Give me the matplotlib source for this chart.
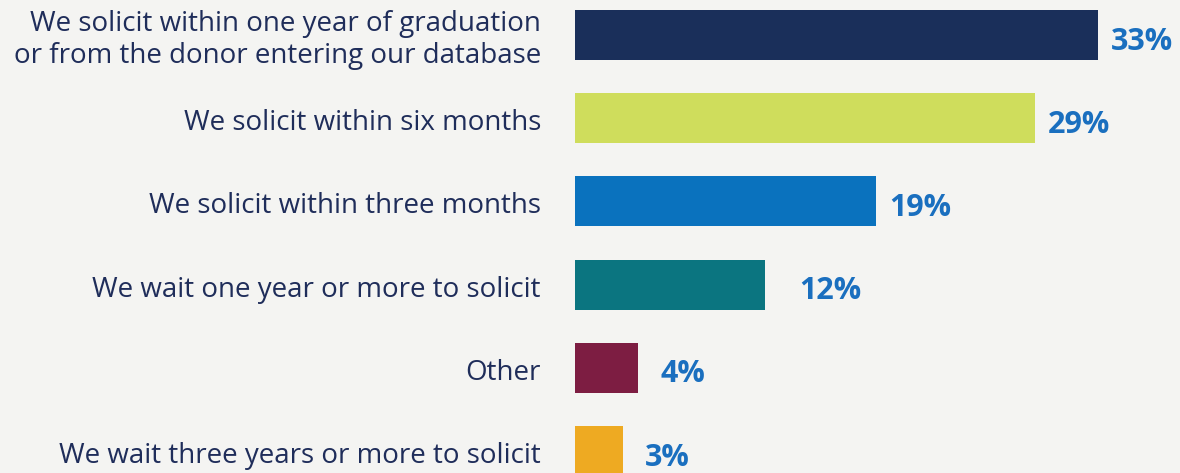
import matplotlib.pyplot as plt

categories = [
    "We solicit within one year of graduation\nor from the donor entering our database",
    "We solicit within six months",
    "We solicit within three months",
    "We wait one year or more to solicit",
    "Other",
    "We wait three years or more to solicit",
]
shares = [33, 29, 19, 12, 4, 3]
bar_colors = ["#1a2f5a", "#cfdd5c", "#0a72be", "#0b7580", "#7d1d42", "#eeaa22"]

bg = "#f4f4f2"
label_color = "#1f2d5a"
value_color = "#1a6fbf"

px_x = 15.85  # pixels per percentage point
px_y = 83.2   # pixels per bar slot

fig = plt.figure(figsize=(11.8, 4.73), dpi=100)
fig.patch.set_facecolor(bg)
ax = fig.add_axes([575 / 1180, 0, 1 - 575 / 1180, 1])
ax.set_facecolor(bg)

pos = list(range(len(shares)))
ax.barh(pos, shares, height=0.6, color=bar_colors)
ax.set_xlim(0, 605 / px_x)
ax.set_ylim((473 - 35) / px_y, -35 / px_y)

for i, (cat, v) in enumerate(zip(categories, shares)):
    lines = cat.split("\n")
    n = len(lines)
    for j, line in enumerate(lines):
        base = i + (12 + (j - (n - 1) / 2) * 31.5) / px_y
        ax.text(-34 / px_x, base, line, ha="right", va="baseline", color=label_color,
                fontsize=20, family="Open Sans", clip_on=False)
    off = 4.1 if v == 12 else 2.8
    ax.text(v + off, i + 14.5 / px_y, f"{v}%", ha="center", va="baseline",
            color=value_color, fontsize=22, fontweight="bold", family="Open Sans")

ax.axis("off")
fig.savefig("out.png", dpi=100, facecolor=bg)
